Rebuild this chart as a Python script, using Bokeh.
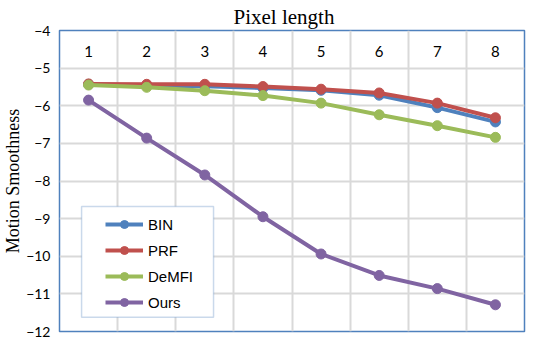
from bokeh.plotting import figure
from bokeh.models import Legend, LegendItem, FixedTicker, BoxAnnotation, ColumnDataSource
from bokeh.core.properties import value
from bokeh.embed import file_html
from bokeh.resources import INLINE

# ---- data ----
x_labels = ["1", "2", "3", "4", "5", "6", "7", "8"]
pixel_length = [1, 2, 3, 4, 5, 6, 7, 8]
bin_vals = [-5.43, -5.47, -5.48, -5.53, -5.59, -5.72, -6.05, -6.43]
prf_vals = [-5.42, -5.43, -5.43, -5.49, -5.56, -5.66, -5.93, -6.32]
demfi_vals = [-5.45, -5.51, -5.60, -5.73, -5.93, -6.24, -6.53, -6.84]
ours_vals = [-5.85, -6.86, -7.84, -8.95, -9.94, -10.51, -10.86, -11.29]
y_ticks = [-12, -11, -10, -9, -8, -7, -6, -5, -4]

series = [
    ("BIN", bin_vals, "#4F81BD"),
    ("PRF", prf_vals, "#C0504D"),
    ("DeMFI", demfi_vals, "#9BBB59"),
    ("Ours", ours_vals, "#8064A2"),
]

p = figure(width=526, height=338, output_backend="svg", toolbar_location=None,
           x_range=(0.5, 8.5), y_range=(-12, -4),
           min_border_left=0, min_border_right=2, min_border_top=23, min_border_bottom=7,
           title="Pixel length")
p.title.align = "left"
p.title.text_font = "Liberation Serif"
p.title.text_font_size = "21px"
p.title.text_font_style = "normal"
p.title.text_color = "#000000"
p.title.standoff = 4
p.title.offset = 174

p.background_fill_color = "white"
p.border_fill_color = "white"
p.outline_line_color = "#4F81BD"
p.outline_line_width = 1.5

# x axis hidden; gridlines between categories
p.xaxis.visible = False
p.xgrid.ticker = FixedTicker(ticks=[i + 0.5 for i in pixel_length[:-1]])
p.xgrid.grid_line_color = "#D9D9D9"
p.xgrid.grid_line_width = 2

p.yaxis.ticker = FixedTicker(ticks=y_ticks)
p.ygrid.grid_line_color = "#D9D9D9"
p.ygrid.grid_line_width = 2
p.yaxis.axis_line_color = None
p.yaxis.major_tick_line_color = None
p.yaxis.minor_tick_line_color = None
p.yaxis.major_tick_out = 0
p.yaxis.major_tick_in = 0
p.yaxis.major_label_text_font = "Lato"
p.yaxis.major_label_text_font_size = "14px"
p.yaxis.major_label_text_color = "#000000"
p.yaxis.major_label_standoff = 9
p.yaxis.axis_label = "Motion Smoothness"
p.yaxis.axis_label_text_font = "Liberation Serif"
p.yaxis.axis_label_text_font_size = "18px"
p.yaxis.axis_label_text_font_style = "normal"
p.yaxis.axis_label_text_color = "#000000"
p.yaxis.axis_label_standoff = 0

# category labels inside the top of the plot
lab_src = ColumnDataSource(dict(x=pixel_length, y=[-4.57] * len(pixel_length), t=x_labels))
p.text(x="x", y="y", text="t", source=lab_src, text_align="center", text_baseline="middle",
       text_font=value("Lato"), text_font_size="15px", text_color="#000000")

items = []
for name, vals, color in series:
    src = ColumnDataSource(dict(x=pixel_length, y=vals))
    l = p.line("x", "y", source=src, line_color=color, line_width=4)
    s = p.scatter("x", "y", source=src, size=10, fill_color=color, line_color=color)
    items.append(LegendItem(label=name, renderers=[l, s]))

box = BoxAnnotation(left=0.88, right=3.15, top=-8.68, bottom=-11.62,
                    fill_color="white", fill_alpha=1.0,
                    line_color="#4F81BD", line_width=1.5)
p.add_layout(box)

legend = Legend(items=items, location=(40, 13))
legend.padding = 6
legend.spacing = 6
legend.margin = 0
legend.glyph_width = 38
legend.glyph_height = 20
legend.label_height = 20
legend.label_standoff = 5
legend.label_text_font = "Liberation Sans"
legend.label_text_font_size = "15px"
legend.label_text_color = "#000000"
legend.border_line_alpha = 0
legend.background_fill_alpha = 0
p.add_layout(legend, "center")

open("out.html", "w").write(file_html(p, INLINE))
